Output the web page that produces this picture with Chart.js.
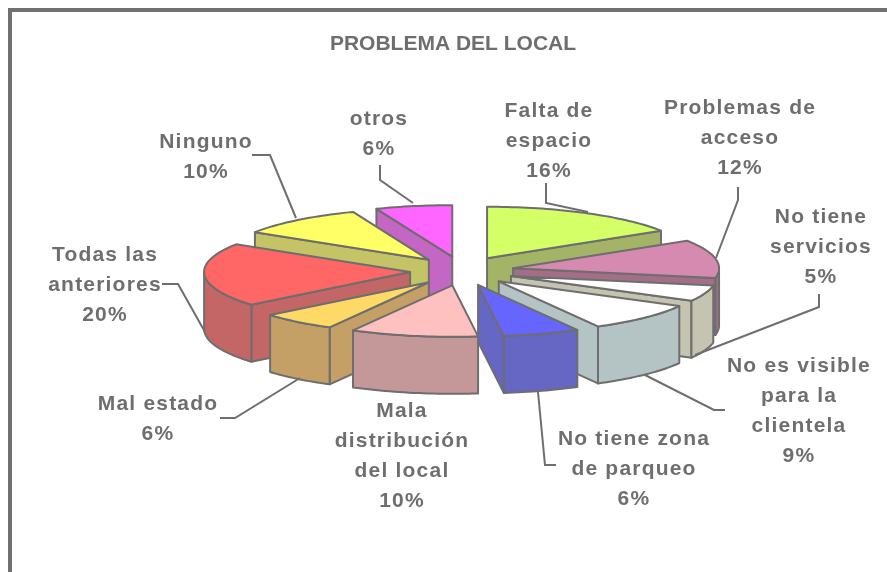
<!DOCTYPE html>
<html><head><meta charset="utf-8">
<script src="https://cdn.jsdelivr.net/npm/chart.js@4"></script>
<style>html,body{margin:0;padding:0;background:#fff;overflow:hidden}canvas{display:block}</style>
</head><body><canvas id="c" width="887" height="572"></canvas>
<script>
const categories = ["Falta de espacio","Problemas de acceso","No tiene servicios","No es visible para la clientela","No tiene zona de parqueo","Mala distribución del local","Mal estado","Todas las anteriores","Ninguno","otros"];
const values = [16,12,5,9,6,10,6,20,10,6];
const topColors = ["#D4FF66","#D68AB0","#FFFFFF","#FFFFFF","#6666FF","#FFC0C0","#FFD966","#FF6666","#FFFF66","#FF66FF"];
const wallColors = ["#A4B466","#A56E88","#C4C4B0","#B4C4C4","#6666C4","#C49898","#C4A066","#C46666","#C4C466","#C466C4"];
const labelLines = [["Falta de","espacio","16%"],["Problemas de","acceso","12%"],["No tiene","servicios","5%"],["No es visible","para la","clientela","9%"],["No tiene zona","de parqueo","6%"],["Mala","distribución","del local","10%"],["Mal estado","6%"],["Todas las","anteriores","20%"],["Ninguno","10%"],["otros","6%"]];
const labelX = [549,740,821,799,634,402,158,105,206,379];
const labelY = [111,108,217,366,439,411,404,255,142,119];
const labelStep = 30;
const leaders = [
 [[546,183],[546,203],[588,212]],
 [[738,187],[738,200],[716,258]],
 [[819,294],[819,307],[695,355]],
 [[725,410],[714,410],[645,375]],
 [[556,465],[545,465],[538,392]],
 null,
 [[220,418],[235,418],[300,378]],
 [[162,284],[178,284],[205,332]],
 [[252,155],[270,155],[296,218]],
 [[380,165],[380,180],[413,203]]
];
const titleText = "PROBLEMA DEL LOCAL";
const SQUASH = 0.25, EXPLODE = 52, EXPLODE_SQ = 0.28, DEPTH = 57, INK = "#6E6E6E";

const pie3d = {
  id:"pie3d",
  beforeDraw(chart){
    const c = chart.ctx;
    c.save();
    c.fillStyle="#fff"; c.fillRect(0,0,chart.width,chart.height);
    c.fillStyle="#707070";
    c.fillRect(8,8,chart.width-8,4);
    c.fillRect(8,8,4,chart.height-8);
    c.restore();
  },
  beforeDatasetDraw(chart){
    const c = chart.ctx;
    const arcs = chart.getDatasetMeta(0).data;
    const order = arcs.map((a,i)=>i).sort((p,q)=>{
      const mp=(arcs[p].startAngle+arcs[p].endAngle)/2, mq=(arcs[q].startAngle+arcs[q].endAngle)/2;
      return Math.sin(mp)-Math.sin(mq);
    });
    c.lineWidth=2; c.lineJoin="round"; c.strokeStyle=INK;
    for(const i of order){
      const a = arcs[i];
      const s=a.startAngle, e=a.endAngle, m=(s+e)/2, R=a.outerRadius;
      const ax=a.x+Math.cos(m)*EXPLODE, ay=a.y+Math.sin(m)*EXPLODE*EXPLODE_SQ;
      const P=t=>[ax+R*Math.cos(t), ay+R*SQUASH*Math.sin(t)];
      const poly=(pts,fill)=>{
        c.beginPath(); pts.forEach((p,k)=>k?c.lineTo(p[0],p[1]):c.moveTo(p[0],p[1])); c.closePath();
        if(fill){c.fillStyle=fill;c.fill();} c.stroke();
      };
      const down=p=>[p[0],p[1]+DEPTH];
      const apex=[ax,ay], mid=P(m);
      for(const t of [s,e]){
        const b=P(t);
        const cross=(b[0]-apex[0])*(mid[1]-apex[1])-(b[1]-apex[1])*(mid[0]-apex[0]);
        const sideAbove=(b[0]-apex[0]===0)?false:(apex[1]+(b[1]-apex[1])*(mid[0]-apex[0])/(b[0]-apex[0])>mid[1]);
        if(sideAbove && cross!==0) poly([apex,b,down(b),down(apex)],wallColors[i]);
      }
      const pts=[];
      const n=Math.max(4,Math.ceil((e-s)*40));
      for(let k=0;k<=n;k++){const t=s+(e-s)*k/n; if(Math.sin(t)>=0) pts.push(P(t));}
      if(pts.length>1){
        poly(pts.concat(pts.slice().reverse().map(down)),wallColors[i]);
      }
      c.save();
      c.translate(ax-a.x,ay);
      c.scale(1,SQUASH);
      c.translate(0,-a.y);
      a.draw(c);
      c.restore();
      const rim=[apex];
      for(let k=0;k<=n;k++) rim.push(P(s+(e-s)*k/n));
      c.beginPath(); rim.forEach((p,k)=>k?c.lineTo(p[0],p[1]):c.moveTo(p[0],p[1])); c.closePath(); c.stroke();
    }
    return false;
  },
  afterDatasetsDraw(chart){
    const c = chart.ctx;
    c.save();
    c.strokeStyle=INK; c.lineWidth=2; c.lineJoin="miter";
    leaders.forEach(l=>{ if(!l) return; c.beginPath(); l.forEach((p,k)=>k?c.lineTo(p[0],p[1]):c.moveTo(p[0],p[1])); c.stroke(); });
    c.fillStyle=INK; c.textAlign="center"; c.textBaseline="middle";
    c.font='bold 21px "Liberation Sans", Arial, sans-serif';
    c.letterSpacing="1.2px";
    labelLines.forEach((ls,i)=>ls.forEach((t,j)=>c.fillText(t,labelX[i],labelY[i]+j*labelStep)));
    c.letterSpacing="0px";
    c.fillText(titleText,453,44);
    c.restore();
  }
};

new Chart(document.getElementById("c"),{
  type:"pie",
  data:{labels:categories,datasets:[{data:values,backgroundColor:topColors,borderWidth:0,offset:0}]},
  options:{
    responsive:false,animation:false,radius:206,
    layout:{padding:{left:37,right:0,top:0,bottom:30}},
    plugins:{legend:{display:false},tooltip:{enabled:false},title:{display:false}}
  },
  plugins:[pie3d]
});
</script></body></html>
